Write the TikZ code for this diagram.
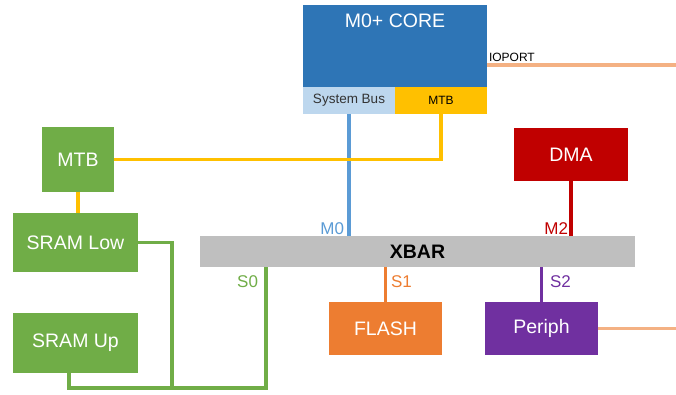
\documentclass[tikz,border=0pt]{standalone}
\usepackage{fontspec}
\setmainfont{Liberation Sans}
\usepackage{xcolor}
\usepackage{tikz}
\usetikzlibrary{positioning}

\definecolor{coreblue}{HTML}{2E75B6}
\definecolor{busblue}{HTML}{BDD7EE}
\definecolor{lineblue}{HTML}{5B9BD5}
\definecolor{mtbyellow}{HTML}{FFC000}
\definecolor{memgreen}{HTML}{70AD47}
\definecolor{dmared}{HTML}{C00000}
\definecolor{flashor}{HTML}{ED7D31}
\definecolor{perpurple}{HTML}{7030A0}
\definecolor{xgray}{HTML}{BFBFBF}
\definecolor{ioorange}{HTML}{F4B183}
\definecolor{darktxt}{HTML}{333333}

\newcommand{\boxfont}{\fontsize{19.5}{22}\selectfont}
\newcommand{\tagfont}{\fontsize{17}{19}\selectfont}
\newcommand{\busfont}{\fontsize{13.5}{15}\selectfont}
\newcommand{\tinyfont}{\fontsize{12}{14}\selectfont}

\begin{document}
\begin{tikzpicture}[x=1pt,y=-1pt,line width=3.3pt]
 \tikzstyle{box}=[inner sep=0pt, outer sep=0pt, text=white, font=\boxfont]
 \tikzstyle{tag}=[inner sep=0pt, outer sep=0pt, font=\tagfont]
 \useasboundingbox (0,0) rectangle (676,395);
 % core and its ports
 \node[box, fill=coreblue, minimum width=184pt, minimum height=82pt] (core) at (395,46) {};
 \node[box, anchor=base] (coretxt) at (395,28) {M0+ CORE};
 \node[box, fill=busblue, text=darktxt, font=\busfont, minimum width=92pt, minimum height=27pt] (sysbus) [below right=0pt and 0pt of core.south west] {System Bus};
 \node[box, fill=mtbyellow, text=black, font=\tinyfont, minimum width=92pt, minimum height=27pt] (mtbport) [right=0pt of sysbus] {MTB};
 % crossbar, masters and slaves
 \node[box, fill=xgray, text=black, font=\boxfont\bfseries, minimum width=435pt, minimum height=31pt] (xbar) at (417.5,251.5) {XBAR};
 \node[box, fill=dmared, minimum width=114pt, minimum height=53pt] (dma) at (571,154.5) {DMA};
 \node[box, fill=flashor, minimum width=113pt, minimum height=53pt] (flash) at (385.5,328.5) {FLASH};
 \node[box, fill=perpurple, minimum width=113pt, minimum height=53pt] (periph) at (541.5,328.5) {Periph};
 \node[box, fill=memgreen, minimum width=72pt, minimum height=65pt] (mtb) at (78,159.5) {MTB};
 \node[box, fill=memgreen, minimum width=125pt, minimum height=59pt] (sramlow) at (75.5,242.5) {SRAM Low};
 \node[box, fill=memgreen, minimum width=125pt, minimum height=60pt] (sramup) at (75.5,343) {SRAM Up};

 \coordinate (ioend) at (676,65);
 \coordinate (perend) at (676,328.5);
 \coordinate (lowbot) at (172,388);
 \coordinate (sbot) at (266,388);

 \draw[lineblue] (sysbus.south) -- (sysbus.south |- xbar.north);
 \draw[mtbyellow] (mtbport.south) |- (mtb.east);
 \draw[mtbyellow] (mtb.south) -- (mtb.south |- sramlow.north);
 \draw[dmared] (dma.south) -- (dma.south |- xbar.north);
 \draw[flashor] (flash.north) -- (flash.north |- xbar.south);
 \draw[perpurple] (periph.north) -- (periph.north |- xbar.south);
 \draw[ioorange] (core.east |- ioend) -- (ioend);
 \draw[ioorange] (periph.east) -- (perend);
 \draw[memgreen] (sramlow.east) -| (lowbot);
 \draw[memgreen] ([xshift=-6.5pt]sramup.south) |- (sbot) -- (sbot |- xbar.south);

 % port labels
 \node[tag, text=lineblue, anchor=base east] (m0) at (344,234) {M0};
 \node[tag, text=dmared, anchor=base east] (m2) at (568,234) {M2};
 \node[tag, text=memgreen, anchor=base east] (s0) at (258,287) {S0};
 \node[tag, text=flashor, anchor=base west] (s1) at (391,287) {S1};
 \node[tag, text=perpurple, anchor=base west] (s2) at (550,287) {S2};
 \node[tag, font=\tinyfont, anchor=base west] (ioport) at (489,62) {IOPORT};
\end{tikzpicture}
\end{document}
